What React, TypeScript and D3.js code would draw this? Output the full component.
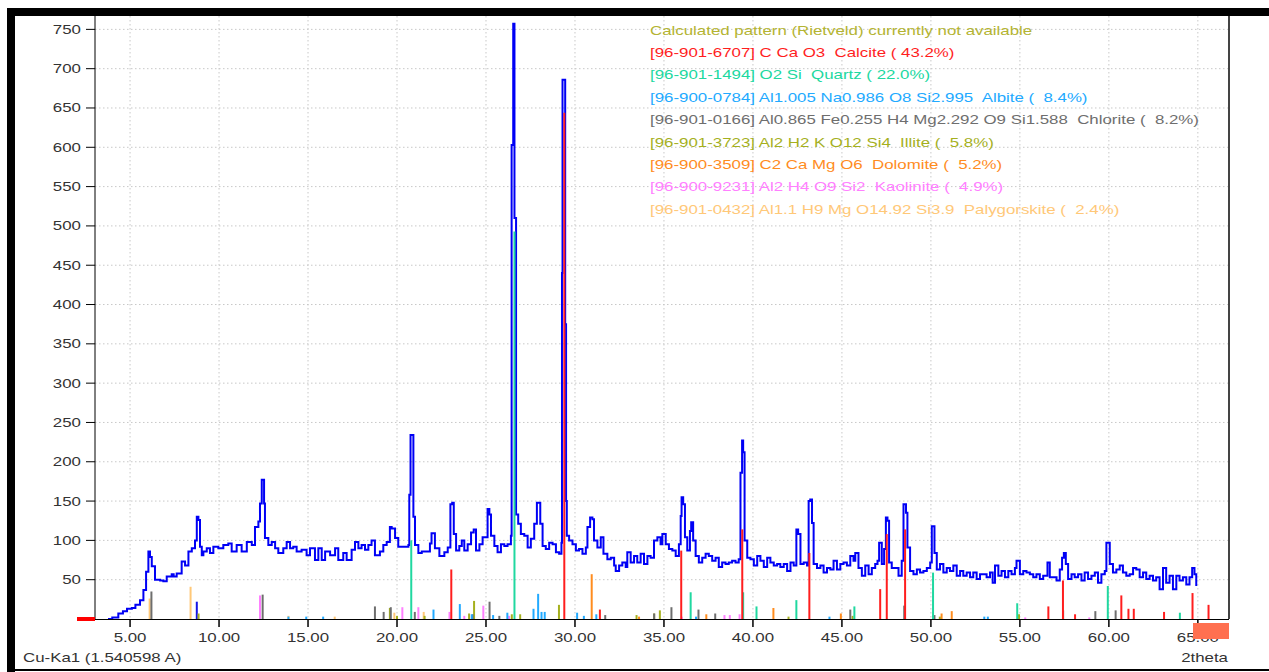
import * as d3 from "d3";

// measured pattern, [2theta, counts]
const observed: [number, number][] = [
  [3.76, 0], [4.0, 2], [4.34, 7], [4.6, 10], [4.83, 13], [5.1, 14], [5.3, 18], [5.56, 24], [5.75, 37], [5.9, 60],
  [6.03, 86], [6.12, 79], [6.22, 67], [6.4, 50], [6.69, 49], [6.87, 48], [7.06, 54], [7.34, 57], [7.45, 54], [7.62, 58],
  [7.9, 73], [8.09, 68], [8.28, 86], [8.47, 90], [8.56, 90], [8.65, 100], [8.75, 130], [8.84, 126], [8.93, 92], [9.03, 81],
  [9.12, 86], [9.31, 90], [9.49, 84], [9.68, 92], [9.96, 90], [10.24, 94], [10.52, 96], [10.71, 86], [10.99, 94], [11.27, 86],
  [11.56, 98], [11.84, 94], [12.02, 117], [12.21, 124], [12.3, 147], [12.4, 177], [12.48, 177], [12.53, 147], [12.58, 103], [12.77, 94],
  [12.96, 98], [13.15, 90], [13.33, 84], [13.61, 90], [13.8, 98], [13.99, 90], [14.17, 92], [14.36, 86], [14.64, 88], [14.92, 81],
  [15.11, 90], [15.39, 75], [15.58, 90], [15.77, 75], [15.96, 86], [16.24, 81], [16.52, 90], [16.7, 75], [16.98, 84], [17.17, 75],
  [17.45, 88], [17.64, 98], [17.83, 90], [18.01, 94], [18.2, 88], [18.39, 94], [18.57, 100], [18.76, 81], [19.04, 86], [19.23, 94],
  [19.42, 98], [19.6, 117], [19.7, 115], [19.89, 103], [20.07, 92], [20.35, 92], [20.64, 94], [20.69, 158], [20.76, 234], [20.84, 234],
  [20.92, 130], [21.01, 94], [21.2, 84], [21.39, 86], [21.66, 86], [21.85, 96], [21.94, 109], [22.13, 90], [22.38, 80], [22.66, 85],
  [22.85, 91], [23.0, 146], [23.1, 148], [23.19, 108], [23.32, 87], [23.5, 93], [23.64, 100], [23.78, 87], [23.97, 95], [24.16, 110],
  [24.31, 114], [24.44, 87], [24.63, 95], [24.81, 104], [25.0, 104], [25.09, 140], [25.19, 133], [25.28, 106], [25.47, 93], [25.65, 85],
  [25.84, 95], [26.03, 93], [26.21, 95], [26.4, 106], [26.44, 603], [26.53, 757], [26.6, 510], [26.69, 133], [26.81, 121], [26.96, 108],
  [27.15, 106], [27.34, 91], [27.52, 102], [27.71, 121], [27.86, 148], [27.95, 148], [28.05, 121], [28.18, 93], [28.36, 89], [28.55, 97],
  [28.74, 95], [28.93, 85], [29.11, 83], [29.24, 97], [29.27, 440], [29.3, 686], [29.45, 375], [29.5, 150], [29.54, 106], [29.67, 100],
  [29.86, 95], [30.05, 87], [30.23, 89], [30.42, 83], [30.61, 91], [30.7, 117], [30.85, 129], [30.98, 127], [31.07, 100], [31.26, 91],
  [31.45, 104], [31.6, 83], [31.82, 76], [32.01, 78], [32.2, 68], [32.29, 61], [32.48, 68], [32.66, 72], [32.85, 66], [32.94, 85],
  [33.13, 72], [33.32, 80], [33.5, 72], [33.69, 83], [33.88, 70], [34.07, 80], [34.25, 78], [34.44, 100], [34.63, 104], [34.81, 95],
  [34.91, 108], [35.1, 95], [35.28, 89], [35.47, 87], [35.66, 80], [35.84, 95], [35.94, 131], [35.99, 155], [36.08, 146], [36.18, 104],
  [36.31, 87], [36.46, 112], [36.53, 123], [36.64, 100], [36.78, 80], [36.96, 72], [37.15, 78], [37.34, 83], [37.52, 80], [37.71, 74],
  [37.9, 78], [38.08, 66], [38.27, 72], [38.46, 70], [38.64, 72], [38.83, 74], [39.02, 72], [39.2, 76], [39.3, 186], [39.39, 227],
  [39.45, 212], [39.53, 100], [39.68, 78], [39.86, 76], [40.05, 68], [40.24, 80], [40.42, 74], [40.61, 66], [40.8, 78], [40.98, 72],
  [41.17, 68], [41.36, 70], [41.54, 66], [41.73, 70], [41.92, 61], [42.11, 72], [42.29, 68], [42.44, 114], [42.54, 108], [42.67, 70],
  [42.85, 72], [43.04, 68], [43.13, 150], [43.22, 152], [43.32, 122], [43.41, 70], [43.6, 65], [43.79, 68], [43.97, 59], [44.16, 65],
  [44.35, 63], [44.53, 74], [44.72, 63], [44.91, 70], [45.09, 72], [45.28, 68], [45.47, 80], [45.65, 74], [45.75, 84], [45.93, 65],
  [46.12, 55], [46.31, 68], [46.5, 57], [46.68, 65], [46.87, 70], [47.0, 74], [47.09, 97], [47.24, 70], [47.37, 89], [47.47, 129],
  [47.56, 125], [47.65, 72], [47.8, 65], [47.99, 65], [48.18, 55], [48.36, 74], [48.46, 146], [48.51, 146], [48.6, 135], [48.68, 91],
  [48.83, 61], [49.02, 57], [49.21, 63], [49.39, 59], [49.58, 61], [49.77, 65], [49.96, 72], [50.05, 118], [50.14, 118], [50.2, 84],
  [50.33, 63], [50.51, 70], [50.7, 59], [50.89, 65], [51.07, 61], [51.26, 68], [51.45, 55], [51.64, 61], [51.82, 55], [52.01, 59],
  [52.2, 53], [52.38, 59], [52.57, 51], [52.76, 57], [52.94, 57], [53.13, 53], [53.32, 59], [53.47, 46], [53.6, 68], [53.79, 55],
  [53.97, 61], [54.16, 53], [54.35, 61], [54.53, 57], [54.72, 65], [54.81, 74], [55.0, 57], [55.19, 61], [55.37, 59], [55.56, 57],
  [55.75, 53], [55.93, 57], [56.12, 51], [56.31, 55], [56.55, 72], [56.68, 53], [56.87, 53], [57.06, 49], [57.24, 63], [57.37, 78],
  [57.47, 84], [57.58, 70], [57.71, 51], [57.9, 57], [58.08, 53], [58.27, 57], [58.46, 49], [58.64, 59], [58.83, 51], [59.02, 55],
  [59.21, 59], [59.39, 46], [59.58, 57], [59.77, 61], [59.86, 97], [59.95, 97], [60.05, 70], [60.23, 59], [60.42, 63], [60.61, 68],
  [60.79, 59], [60.98, 55], [61.17, 57], [61.36, 65], [61.54, 63], [61.73, 53], [61.92, 59], [62.1, 51], [62.29, 55], [62.48, 49],
  [62.66, 53], [62.85, 38], [63.04, 65], [63.22, 46], [63.41, 55], [63.6, 38], [63.79, 55], [63.97, 49], [64.16, 53], [64.35, 44],
  [64.53, 53], [64.68, 65], [64.81, 57], [64.91, 42],
];

// reference sticks per phase, [2theta, counts]
const calciteSticks: [number, number][] = [
  [23.05, 63], [29.4, 644], [31.4, 12], [35.97, 87], [39.4, 114], [43.17, 84], [47.15, 38], [47.52, 108], [48.55, 114],
  [56.6, 16], [57.42, 49], [58.1, 6], [60.7, 30], [61.1, 13], [61.4, 13], [63.1, 9], [64.7, 33], [65.6, 18],
];
const quartzSticks: [number, number][] = [
  [20.8, 100], [26.6, 493], [36.5, 34], [39.45, 34], [40.2, 16], [42.44, 24], [45.7, 16], [50.12, 59], [54.85, 20],
  [59.94, 42], [63.99, 8],
];
const albiteSticks: [number, number][] = [
  [13.9, 3], [14.9, 3], [15.85, 3], [22.05, 12], [23.53, 19], [24.2, 6], [25.4, 5], [26.2, 8], [27.67, 13], [27.93, 32],
  [28.12, 9], [28.3, 9], [30.12, 8], [31.2, 6], [30.5, 4], [36.8, 3], [44.3, 3], [53.0, 3], [53.2, 3],
];
const chloriteSticks: [number, number][] = [
  [6.2, 35], [12.45, 31], [18.76, 16], [19.25, 9], [19.65, 15], [21.0, 9], [24.25, 6], [25.2, 22], [25.75, 4], [31.7, 5],
  [34.45, 7], [35.42, 15], [36.94, 12], [37.88, 7], [45.47, 12], [48.5, 17], [57.43, 11], [59.24, 10], [60.38, 11], [50.2, 5],
];
const illiteSticks: [number, number][] = [
  [8.85, 7], [19.6, 14], [20.0, 4], [21.55, 4], [24.05, 7], [24.33, 23], [26.45, 6], [26.92, 6], [29.1, 18], [33.46, 5],
  [34.45, 7], [34.77, 11], [42.0, 3], [45.6, 4], [50.5, 3], [54.95, 6],
];
const dolomiteSticks: [number, number][] = [
  [30.94, 57], [33.6, 3], [37.38, 6], [41.15, 14], [44.94, 7], [50.6, 7], [51.17, 10],
];
const kaoliniteSticks: [number, number][] = [
  [12.3, 30], [20.3, 15], [21.2, 15], [22.95, 9], [23.78, 4], [24.85, 17], [26.3, 4], [36.0, 3], [38.4, 5], [38.7, 5],
  [39.25, 6], [55.3, 2], [58.9, 2],
];
const palygorskiteSticks: [number, number][] = [
  [8.4, 41], [6.1, 26], [13.9, 4], [19.85, 8], [21.5, 9], [16.5, 3],
];
const unassignedSticks: [number, number][] = [[8.75, 22]];

const yTicks = [50, 100, 150, 200, 250, 300, 350, 400, 450, 500, 550, 600, 650, 700, 750];
const xTicks = [5, 10, 15, 20, 25, 30, 35, 40, 45, 50, 55, 60, 65];

const legendLines = [
  { text: "Calculated pattern (Rietveld) currently not available", color: "#b4b432" },
  { text: "[96-901-6707] C Ca O3  Calcite ( 43.2%)", color: "#ff1e1e" },
  { text: "[96-901-1494] O2 Si  Quartz ( 22.0%)", color: "#20d8a0" },
  { text: "[96-900-0784] Al1.005 Na0.986 O8 Si2.995  Albite (  8.4%)", color: "#22aaff" },
  { text: "[96-901-0166] Al0.865 Fe0.255 H4 Mg2.292 O9 Si1.588  Chlorite (  8.2%)", color: "#6e6e6e" },
  { text: "[96-901-3723] Al2 H2 K O12 Si4  Illite (  5.8%)", color: "#a5b01e" },
  { text: "[96-900-3509] C2 Ca Mg O6  Dolomite (  5.2%)", color: "#ff8c1e" },
  { text: "[96-900-9231] Al2 H4 O9 Si2  Kaolinite (  4.9%)", color: "#ff80ff" },
  { text: "[96-901-0432] Al1.1 H9 Mg O14.92 Si3.9  Palygorskite (  2.4%)", color: "#ffc878" },
];

const stickSets = [
  { data: unassignedSticks, color: "#1414e6" },
  { data: palygorskiteSticks, color: "#ffc878" },
  { data: kaoliniteSticks, color: "#ff80ff" },
  { data: dolomiteSticks, color: "#ff8c1e" },
  { data: illiteSticks, color: "#a5b01e" },
  { data: chloriteSticks, color: "#6e6e6e" },
  { data: albiteSticks, color: "#22aaff" },
  { data: quartzSticks, color: "#20d8a0" },
  { data: calciteSticks, color: "#ff1e1e" },
];

const FONT = '"Liberation Sans", Arial, sans-serif';
const SX = 1.35; // the source image is stretched sideways

function T(props: { x: number; y: number; anchor?: string; fill?: string; children: any }) {
  return (
    <text
      transform={`translate(${props.x},${props.y}) scale(${SX},1)`}
      textAnchor={props.anchor || "start"}
      fill={props.fill || "#333"}
      fontFamily={FONT}
      fontSize={12.5}
      style={{ whiteSpace: "pre" }}
    >
      {props.children}
    </text>
  );
}

export default function App() {
  const left = 95, right = 1229, top = 16, bottom = 619;
  const x = d3.scaleLinear().domain([3.03, 66.75]).range([left, right]);
  const y = d3.scaleLinear().domain([0, 767]).range([bottom, top]);

  const line = d3
    .line<[number, number]>()
    .x((d) => x(d[0]))
    .y((d) => y(d[1]))
    .curve(d3.curveStepAfter);

  return (
    <svg width={1269} height={672} style={{ position: "absolute", left: 0, top: 0, background: "#fff" }}>
      {/* grid */}
      {yTicks.map((t) => (
        <line key={"gy" + t} x1={left} x2={right} y1={y(t)} y2={y(t)} stroke="#c8c8c8" strokeDasharray="1.5,2.5" />
      ))}
      {xTicks.map((t) => (
        <line key={"gx" + t} x1={x(t)} x2={x(t)} y1={top} y2={bottom} stroke="#c8c8c8" strokeDasharray="1.5,2.5" />
      ))}

      {/* measured pattern */}
      <path d={line(observed) || ""} fill="none" stroke="#0000f5" strokeWidth={2} />

      {/* phase sticks */}
      {stickSets.map((s, i) =>
        s.data.map((d, j) => (
          <line key={i + "-" + j} x1={x(d[0])} x2={x(d[0])} y1={y(0)} y2={y(d[1])} stroke={s.color} strokeWidth={2} />
        ))
      )}

      {/* axes */}
      <line x1={left} x2={left} y1={top} y2={bottom} stroke="#000" />
      <line x1={left} x2={right} y1={bottom + 0.5} y2={bottom + 0.5} stroke="#000" />
      <line x1={right} x2={right} y1={top} y2={bottom} stroke="#444" strokeWidth={2} />
      <rect x={77} y={617} width={18} height={4} fill="#ff0000" />
      {yTicks.map((t) => (
        <g key={"yt" + t}>
          <line x1={86} x2={left} y1={y(t)} y2={y(t)} stroke="#000" />
          <T x={81} y={y(t) + 4.5} anchor="end">{t}</T>
        </g>
      ))}
      {xTicks.map((t) => (
        <g key={"xt" + t}>
          <line x1={x(t)} x2={x(t)} y1={bottom} y2={bottom + 8} stroke="#000" strokeWidth={1.5} />
          <T x={x(t)} y={642} anchor="middle">{t.toFixed(2)}</T>
        </g>
      ))}
      <rect x={1193} y={623} width={36} height={16} fill="#ff7050" />
      <T x={23} y={662}>Cu-Ka1 (1.540598 A)</T>
      <T x={1228} y={662} anchor="end">2theta</T>

      {/* legend */}
      {legendLines.map((l, i) => (
        <T key={"lg" + i} x={650} y={34.5 + i * 22.4} fill={l.color}>{l.text}</T>
      ))}

      {/* frame */}
      <rect x={7} y={8} width={1262} height={8} fill="#000" />
      <rect x={7} y={8} width={8} height={664} fill="#000" />
      <rect x={7} y={669} width={1262} height={2} fill="#000" />
    </svg>
  );
}
